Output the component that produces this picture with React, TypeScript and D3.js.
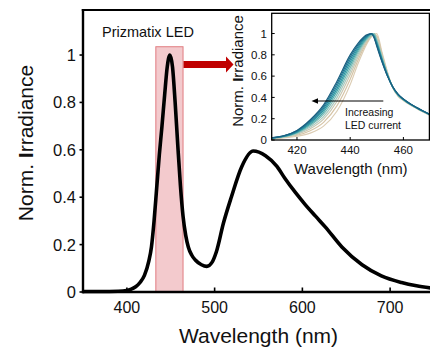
import React from "react";
import * as d3 from "d3";

const FONT = "'Liberation Sans', Arial, Helvetica, sans-serif";

// Main spectrum (white LED)
const mainWavelengths = [350, 370, 390, 400, 405, 410, 415, 420, 425, 428, 431, 434, 437, 440, 443, 446, 449, 452, 455, 458, 461, 464, 467, 470, 474, 478, 485, 491, 497, 502, 510, 519, 531, 544, 558, 571, 580, 592, 603, 615, 626, 645, 668, 690, 713, 730, 750];
const mainIrradiance = [0.002, 0.002, 0.003, 0.006, 0.012, 0.022, 0.04, 0.07, 0.13, 0.19, 0.3, 0.44, 0.58, 0.7, 0.83, 0.95, 1.0, 0.95, 0.8, 0.62, 0.45, 0.32, 0.24, 0.19, 0.155, 0.135, 0.115, 0.108, 0.125, 0.17, 0.29, 0.4, 0.53, 0.595, 0.575, 0.53, 0.48, 0.42, 0.37, 0.32, 0.275, 0.19, 0.115, 0.068, 0.04, 0.026, 0.015];

const mainXTicks = [400, 500, 600, 700];
const mainYTicks = [0, 0.2, 0.4, 0.6, 0.8, 1];
const mainYTickLabels = ["0", "0.2", "0.4", "0.6", "0.8", "1"];

// Highlight band
const bandRange = [433, 464];
const bandTop = 1.035;

// Inset spectra (LED at increasing current)
const insetWavelengths = [410, 415, 420, 425, 430, 435, 440, 443, 446, 448, 449, 450, 452, 454, 456, 458, 460, 465, 470];
const insetCurve0 = [0.02, 0.04, 0.09, 0.19, 0.33, 0.55, 0.8, 0.91, 0.985, 1.0, 0.96, 0.88, 0.73, 0.6, 0.5, 0.43, 0.385, 0.305, 0.24];
const insetCurve1 = [0.02, 0.038, 0.086, 0.18, 0.314, 0.528, 0.778, 0.895, 0.977, 1.0, 0.963, 0.89, 0.737, 0.603, 0.499, 0.428, 0.384, 0.304, 0.239];
const insetCurve2 = [0.018, 0.037, 0.081, 0.17, 0.298, 0.505, 0.755, 0.88, 0.97, 0.998, 0.966, 0.899, 0.744, 0.606, 0.498, 0.427, 0.383, 0.303, 0.238];
const insetCurve3 = [0.0175, 0.035, 0.076, 0.159, 0.28, 0.48, 0.73, 0.862, 0.961, 1.0, 0.975, 0.91, 0.752, 0.61, 0.497, 0.425, 0.381, 0.302, 0.237];
const insetCurve4 = [0.017, 0.033, 0.071, 0.147, 0.262, 0.455, 0.705, 0.845, 0.953, 0.995, 0.985, 0.92, 0.76, 0.614, 0.497, 0.423, 0.38, 0.302, 0.237];
const insetCurve5 = [0.016, 0.031, 0.066, 0.135, 0.242, 0.427, 0.677, 0.826, 0.943, 0.987, 0.997, 0.933, 0.77, 0.618, 0.496, 0.421, 0.378, 0.3, 0.236];
const insetCurve6 = [0.0145, 0.029, 0.06, 0.121, 0.22, 0.396, 0.646, 0.805, 0.933, 0.983, 1.0, 0.946, 0.78, 0.622, 0.494, 0.419, 0.377, 0.299, 0.234];
const insetCurve7 = [0.013, 0.027, 0.053, 0.106, 0.196, 0.362, 0.612, 0.783, 0.921, 0.98, 1.0, 0.96, 0.79, 0.627, 0.493, 0.417, 0.375, 0.298, 0.233];
const insetCurve8 = [0.012, 0.024, 0.045, 0.0875, 0.166, 0.32, 0.57, 0.754, 0.907, 0.975, 0.995, 0.98, 0.804, 0.633, 0.492, 0.414, 0.373, 0.297, 0.232];
const insetCurve9 = [0.01, 0.02, 0.035, 0.065, 0.13, 0.27, 0.52, 0.72, 0.89, 0.97, 0.995, 1.0, 0.82, 0.64, 0.49, 0.41, 0.37, 0.295, 0.23];
const insetCurves = [insetCurve0, insetCurve1, insetCurve2, insetCurve3, insetCurve4, insetCurve5, insetCurve6, insetCurve7, insetCurve8, insetCurve9];
const insetColors = ["#1a5f80", "#1d7290", "#22849b", "#2b96a2", "#49a8aa", "#7dbcb5", "#aac9bf", "#c9c7b2", "#d6c4a6", "#dccdb4"];

const insetXTicks = [420, 440, 460];
const insetYTicks = [0, 0.2, 0.4, 0.6, 0.8, 1];
const insetYTickLabels = ["0", "0.2", "0.4", "0.6", "0.8", "1"];

export default function App() {
  // main scales
  const x = d3.scaleLinear().domain([350, 750]).range([83, 434]);
  const y = d3.scaleLinear().domain([0, 1.19]).range([292, 10]);
  const mainLine = d3
    .line<number>()
    .x((_, i) => x(mainWavelengths[i]))
    .y((d) => y(d))
    .curve(d3.curveMonotoneX);

  // inset scales
  const ix = d3.scaleLinear().domain([410.5, 470]).range([271.7, 430]);
  const iy = d3.scaleLinear().domain([0, 1.19]).range([140, 13.3]);
  const insetLine = d3
    .line<number>()
    .x((_, i) => ix(insetWavelengths[i]))
    .y((d) => iy(d))
    .curve(d3.curveMonotoneX);

  const [x0, x1] = x.range();
  const [y0, y1] = y.range();
  const [ix0, ix1] = ix.range();
  const [iy0, iy1] = iy.range();

  const bandX0 = x(bandRange[0]);
  const bandX1 = x(bandRange[1]);
  const bandY = y(bandTop);
  const arrowY = y(0.96);

  return (
    <svg
      width={430}
      height={353}
      style={{ position: "absolute", left: 0, top: 0, background: "#fff" }}
      fontFamily={FONT}
    >
      <defs>
        <clipPath id="insetClip">
          <rect x={ix0} y={iy1} width={ix1 - ix0} height={iy0 - iy1} />
        </clipPath>
      </defs>

      {/* highlight band */}
      <rect
        x={bandX0}
        y={bandY}
        width={bandX1 - bandX0}
        height={y0 - bandY}
        fill="#f3cacd"
        stroke="#e07d80"
        strokeWidth={1}
      />

      {/* red arrow */}
      <rect x={bandX1 + 0.5} y={arrowY - 3.5} width={226 - bandX1} height={7} fill="#c00000" />
      <path d={`M226,${arrowY - 8} L233.5,${arrowY} L226,${arrowY + 8} Z`} fill="#c00000" />

      {/* main curve */}
      <path d={mainLine(mainIrradiance) || ""} fill="none" stroke="#000" strokeWidth={3.6} strokeLinejoin="round" />

      {/* main axes */}
      <line x1={x0} x2={x0} y1={y1 - 1} y2={y0 + 1.2} stroke="#000" strokeWidth={2.4} />
      <line x1={x0 - 1.2} x2={x1} y1={y0} y2={y0} stroke="#000" strokeWidth={2.4} />
      <line x1={x0 - 1.2} x2={x1} y1={y1} y2={y1} stroke="#000" strokeWidth={2.2} />

      {mainXTicks.map((t) => (
        <g key={"mx" + t}>
          <line x1={x(t)} x2={x(t)} y1={y0} y2={y0 - 4.5} stroke="#000" strokeWidth={1.6} />
          <text x={x(t)} y={313} fontSize={16} textAnchor="middle" fill="#111">
            {t}
          </text>
        </g>
      ))}
      {mainYTicks.map((t, i) => (
        <g key={"my" + t}>
          <line x1={x0} x2={x0 - 3.5} y1={y(t)} y2={y(t)} stroke="#000" strokeWidth={1.6} />
          <text x={76} y={y(t)} dy="0.36em" fontSize={16.5} textAnchor="end" fill="#111">
            {mainYTickLabels[i]}
          </text>
        </g>
      ))}

      <text x={258.5} y={343} fontSize={21} textAnchor="middle" fill="#111">
        Wavelength (nm)
      </text>
      <text transform="translate(33,143) rotate(-90)" fontSize={21} textAnchor="middle" fill="#111">
        Norm. <tspan fontWeight="bold">I</tspan>rradiance
      </text>

      <text x={102} y={37} fontSize={14.5} fill="#111">
        Prizmatix LED
      </text>

      {/* inset */}
      <rect x={ix0} y={iy1} width={ix1 - ix0} height={iy0 - iy1} fill="#fff" />
      <g clipPath="url(#insetClip)">
        {insetCurves
          .map((c, i) => ({ c, i }))
          .reverse()
          .map(({ c, i }) => (
            <path key={"ic" + i} d={insetLine(c) || ""} fill="none" stroke={insetColors[i]} strokeWidth={1.2} />
          ))}
      </g>
      <rect x={ix0} y={iy1} width={ix1 - ix0 - 0.6} height={iy0 - iy1} fill="none" stroke="#000" strokeWidth={1.3} />

      {insetXTicks.map((t) => (
        <g key={"ix" + t}>
          <line x1={ix(t)} x2={ix(t)} y1={iy0} y2={iy0 - 3} stroke="#000" strokeWidth={1} />
          <text x={ix(t)} y={154} fontSize={11.5} textAnchor="middle" fill="#111">
            {t}
          </text>
        </g>
      ))}
      {insetYTicks.map((t, i) => (
        <g key={"iy" + t}>
          <line x1={ix0} x2={ix0 + 3} y1={iy(t)} y2={iy(t)} stroke="#000" strokeWidth={1} />
          <text x={267} y={iy(t)} dy="0.36em" fontSize={11.5} textAnchor="end" fill="#111">
            {insetYTickLabels[i]}
          </text>
        </g>
      ))}

      <text x={350.8} y={174} fontSize={15} textAnchor="middle" fill="#111">
        Wavelength (nm)
      </text>
      <text transform="translate(243,71) rotate(-90)" fontSize={15} textAnchor="middle" fill="#111">
        Norm. <tspan fontWeight="bold">I</tspan>rradiance
      </text>

      {/* inset annotation */}
      <line x1={383.3} x2={316} y1={101} y2={101} stroke="#000" strokeWidth={1} />
      <path d="M311.5,101 L318,98.3 L318,103.7 Z" fill="#000" />
      <text x={345} y={115.5} fontSize={10.5} fill="#111">
        Increasing
      </text>
      <text x={345} y={129} fontSize={10.5} fill="#111">
        LED current
      </text>
    </svg>
  );
}
